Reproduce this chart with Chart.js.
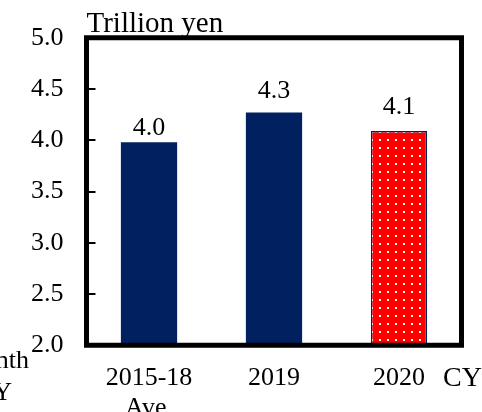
<!DOCTYPE html>
<html>
<head>
<meta charset="utf-8">
<script src="https://cdn.jsdelivr.net/npm/chart.js@4/dist/chart.umd.min.js"></script>
<style>
  html, body { margin: 0; padding: 0; background: #fff; }
  #wrap { width: 482px; height: 412px; }
</style>
</head>
<body>
<div id="wrap"><canvas id="myChart" width="482" height="412"></canvas></div>
<script>
// monthly average, trillion yen
var categories = [["2015-18", "Ave."], "2019", "2020"];
var values = [3.98, 4.27, 4.09];
var yTicks = [2.0, 2.5, 3.0, 3.5, 4.0, 4.5, 5.0];
var unitText = "Trillion yen";
var xUnitText = "CY";
var sideText = ["nth", "Y"];

var FONT = "'Liberation Serif', 'Times New Roman', serif";
var NAVY = "#002060";

// red fill with white dots for the latest year
function dotPattern() {
  var c = document.createElement("canvas");
  c.width = 8;
  c.height = 8;
  var g = c.getContext("2d");
  g.fillStyle = "#ff0000";
  g.fillRect(0, 0, 8, 8);
  g.fillStyle = "#ffffff";
  g.fillRect(3, 3, 2, 2);
  var ctx = document.getElementById("myChart").getContext("2d");
  return ctx.createPattern(c, "repeat");
}

var labelGap = [7, 15, 17];

var framePlugin = {
  id: "frame",
  afterDatasetsDraw: function(chart) {
    var ctx = chart.ctx;
    var a = chart.chartArea;
    var y = chart.scales.y;
    ctx.save();
    // inner tick marks on the left side
    ctx.strokeStyle = "#000";
    ctx.lineWidth = 2;
    y.ticks.forEach(function(t) {
      if (t.value <= y.min || t.value >= y.max) return;
      var py = Math.round(y.getPixelForValue(t.value));
      ctx.beginPath();
      ctx.moveTo(a.left, py);
      ctx.lineTo(a.left + 9, py);
      ctx.stroke();
    });
    ctx.lineWidth = 5;
    ctx.strokeRect(a.left, a.top, a.right - a.left, a.bottom - a.top);

    // value labels
    ctx.fillStyle = "#000";
    ctx.font = "26px " + FONT;
    ctx.textAlign = "center";
    ctx.textBaseline = "alphabetic";
    var meta = chart.getDatasetMeta(0);
    meta.data.forEach(function(bar, i) {
      ctx.fillText(values[i].toFixed(1), bar.x, bar.y - labelGap[i]);
    });

    // unit and axis texts
    ctx.textAlign = "left";
    ctx.font = "29px " + FONT;
    ctx.fillText(unitText, a.left, 32);
    ctx.font = "28px " + FONT;
    ctx.fillText(xUnitText, 443, 386);
    ctx.font = "26px " + FONT;
    ctx.textAlign = "right";
    ctx.fillText(sideText[0], 29, 368);
    ctx.fillText(sideText[1], 12, 400);
    ctx.restore();
  }
};

var chart = new Chart(document.getElementById("myChart"), {
  type: "bar",
  data: {
    labels: categories,
    datasets: [{
      data: values,
      backgroundColor: [NAVY, NAVY, dotPattern()],
      borderColor: [NAVY, NAVY, NAVY],
      borderWidth: [0, 0, 1.5],
      barPercentage: 0.45,
      categoryPercentage: 1.0
    }]
  },
  options: {
    responsive: false,
    animation: false,
    events: [],
    layout: { padding: { top: 37.75, right: 20.5, left: 0, bottom: 0 } },
    plugins: {
      legend: { display: false },
      title: { display: false },
      tooltip: { enabled: false }
    },
    scales: {
      x: {
        grid: { display: false },
        border: { display: false },
        ticks: {
          color: "#000",
          padding: 10,
          maxRotation: 0,
          font: { family: FONT, size: 26, lineHeight: 1.15 }
        },
        afterFit: function(scale) { scale.height = 66.75; }
      },
      y: {
        min: yTicks[0],
        max: yTicks[yTicks.length - 1],
        grid: { display: false },
        border: { display: false },
        afterBuildTicks: function(scale) {
          scale.ticks = yTicks.map(function(v) { return { value: v }; });
        },
        ticks: {
          color: "#000",
          padding: 15,
          font: { family: FONT, size: 26 },
          callback: function(v) { return Number(v).toFixed(1); }
        },
        afterFit: function(scale) { scale.width = 86.5; }
      }
    }
  },
  plugins: [framePlugin]
});
</script>
</body>
</html>
